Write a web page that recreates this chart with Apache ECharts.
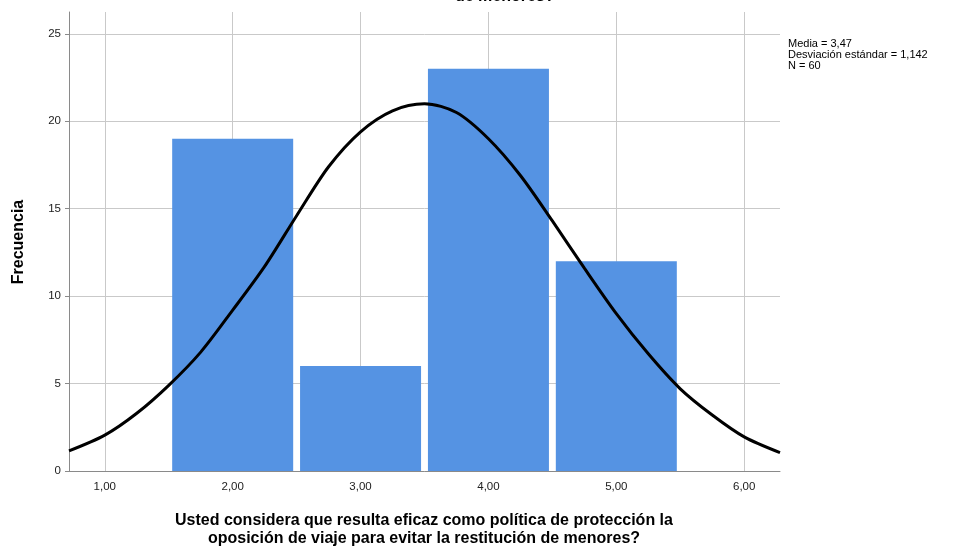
<!DOCTYPE html>
<html>
<head>
<meta charset="utf-8">
<script src="https://cdn.jsdelivr.net/npm/echarts@6/dist/echarts.min.js"></script>
<style>
  html, body { margin: 0; padding: 0; background: #fff; }
  #main { width: 963px; height: 552px; }
</style>
</head>
<body>
<div id="main"></div>
<script>
  // valores del histograma (centro de clase, frecuencia)
  var categorias = [2, 3, 4, 5];
  var frecuencias = [19, 6, 23, 12];

  // curva normal (x, frecuencia)
  var curvaX = [0.72, 1.0, 1.25, 1.5, 1.75, 2.0, 2.25, 2.5, 2.75, 3.0, 3.25, 3.5, 3.75, 4.0, 4.25, 4.5, 4.75, 5.0, 5.25, 5.5, 5.75, 6.0, 6.28];
  var curvaY = [1.15, 2.05, 3.3, 4.9, 6.8, 9.2, 11.7, 14.6, 17.4, 19.4, 20.6, 21.0, 20.5, 19.0, 16.9, 14.3, 11.6, 9.0, 6.7, 4.7, 3.2, 1.95, 1.05];

  var estadisticos = ['Media = 3,47', 'Desviación estándar = 1,142', 'N = 60'];
  var tituloX = 'Usted considera que resulta eficaz como política de protección la\noposición de viaje para evitar la restitución de menores?';
  var tituloY = 'Frecuencia';

  var barras = categorias.map(function (c, i) { return [c, frecuencias[i]]; });
  var curva = curvaX.map(function (x, i) { return [x, curvaY[i]]; });

  var chart = echarts.init(document.getElementById('main'));
  var fuente = '"Liberation Sans", Arial, sans-serif';

  chart.setOption({
    animation: false,
    backgroundColor: '#fff',
    textStyle: { fontFamily: fuente },
    grid: { left: 69, right: 183, top: 12, bottom: 81, containLabel: false },
    xAxis: {
      type: 'value',
      min: 0.72,
      max: 6.28,
      splitNumber: 5,
      axisLine: { show: true, onZero: false, lineStyle: { color: '#8a8a8a', width: 1 } },
      axisTick: { show: false },
      axisLabel: {
        showMinLabel: false, showMaxLabel: false,
        color: '#222', fontSize: 11.5, margin: 10, fontFamily: fuente,
        formatter: function (v) { return v.toFixed(2).replace('.', ','); }
      },
      splitLine: { show: true, showMinLine: false, showMaxLine: false, lineStyle: { color: '#c9c9c9', width: 1 } }
    },
    yAxis: {
      type: 'value',
      min: 0,
      max: 26.25,
      interval: 5,
      axisLine: { show: true, lineStyle: { color: '#8a8a8a', width: 1 } },
      axisTick: { show: true, length: 4, lineStyle: { color: '#8a8a8a' } },
      axisLabel: { showMaxLabel: false, color: '#222', fontSize: 11.5, margin: 8, fontFamily: fuente },
      splitLine: { show: true, showMaxLine: false, lineStyle: { color: '#c9c9c9', width: 1 } }
    },
    series: [
      {
        type: 'bar',
        data: barras,
        barWidth: 121,
        itemStyle: { color: '#5593e3' },
        z: 2
      },
      {
        type: 'line',
        data: curva,
        smooth: 0.3,
        symbol: 'none',
        lineStyle: { color: '#000', width: 3 },
        z: 3
      }
    ],
    graphic: [
      {
        type: 'text', left: 455, top: -11,
        style: { text: 'de menores?', font: 'bold 16px ' + fuente, fill: '#000' }
      },
      {
        type: 'text', left: 788, top: 38,
        style: { text: estadisticos.join('\n'), font: '11px ' + fuente, fill: '#000', lineHeight: 11 }
      },
      {
        type: 'text', x: 424, y: 512,
        style: { text: tituloX, font: 'bold 16px ' + fuente, fill: '#000', align: 'center', lineHeight: 18 }
      },
      {
        type: 'text', x: 11, y: 242, rotation: Math.PI / 2,
        style: { text: tituloY, font: 'bold 16px ' + fuente, fill: '#000', align: 'center', verticalAlign: 'top' }
      }
    ]
  });
</script>
</body>
</html>
